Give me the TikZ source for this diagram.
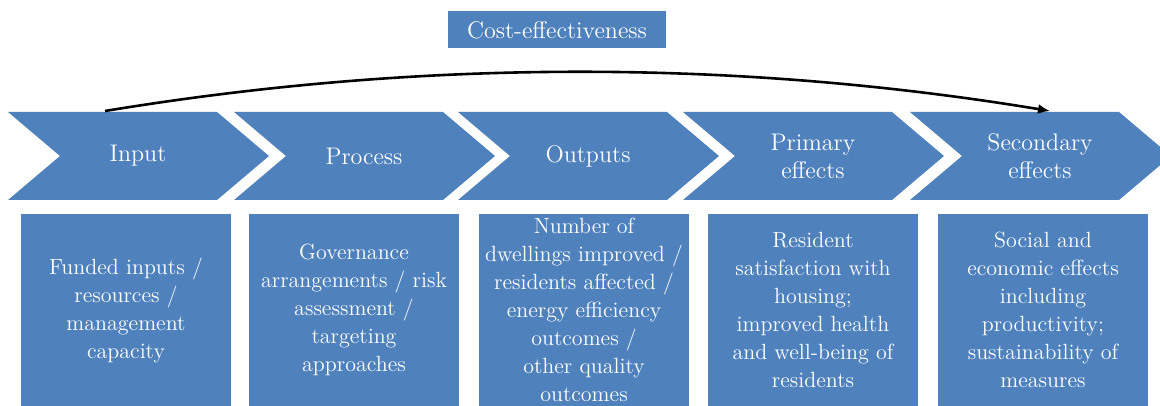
\documentclass[tikz,border=0pt]{standalone}
\usetikzlibrary{arrows.meta}
\definecolor{stageblue}{RGB}{79,129,189}
\begin{document}
\begin{tikzpicture}[x=0.5pt,y=-0.5pt,
    stagetext/.style={text=white,align=center,font=\fontsize{12}{14}\selectfont},
    detailbox/.style={fill=stageblue,text=white,align=center,inner sep=0pt,
        minimum width=105pt,minimum height=96pt,font=\fontsize{11}{14}\selectfont}]
\useasboundingbox (0,0) rectangle (1160,406);
\foreach \x/\name/\txt in {8/input/Input, 234/process/Process, 458/outputs/Outputs,
    683/primary/{Primary\\effects}, 910/secondary/{Secondary\\effects}}{
  \fill[stageblue] (\x,112) -- ++(209,0) -- ++(52,44) -- ++(-52,44) -- ++(-209,0) -- ++(52,-44) -- cycle;
  \node[stagetext] (\name) at (\x+130,156) {\txt};
}
\node[detailbox] (inputDetail) at (126,310) {Funded inputs /\\resources /\\management\\capacity};
\node[detailbox] (processDetail) at (354,310) {Governance\\arrangements / risk\\assessment /\\targeting\\approaches};
\node[detailbox] (outputsDetail) at (584,310) {Number of\\dwellings improved /\\residents affected /\\energy efficiency\\outcomes /\\other quality\\outcomes};
\node[detailbox] (primaryDetail) at (813,310) {Resident\\satisfaction with\\housing;\\improved health\\and well-being of\\residents};
\node[detailbox] (secondaryDetail) at (1043,310) {Social and\\economic effects\\including\\productivity;\\sustainability of\\measures};
\node[fill=stageblue,text=white,minimum width=109pt,minimum height=18.5pt,inner sep=0pt,
    font=\fontsize{12}{14}\selectfont] (costTitle) at (557,30) {Cost-effectiveness};
\coordinate (arcStart) at (105,111);
\coordinate (arcEnd) at (1050,111);
\draw[line width=1.3pt,-{Latex[length=6pt,width=5pt]}] (arcStart) .. controls (420,59) and (735,59) .. (arcEnd);
\end{tikzpicture}
\end{document}
